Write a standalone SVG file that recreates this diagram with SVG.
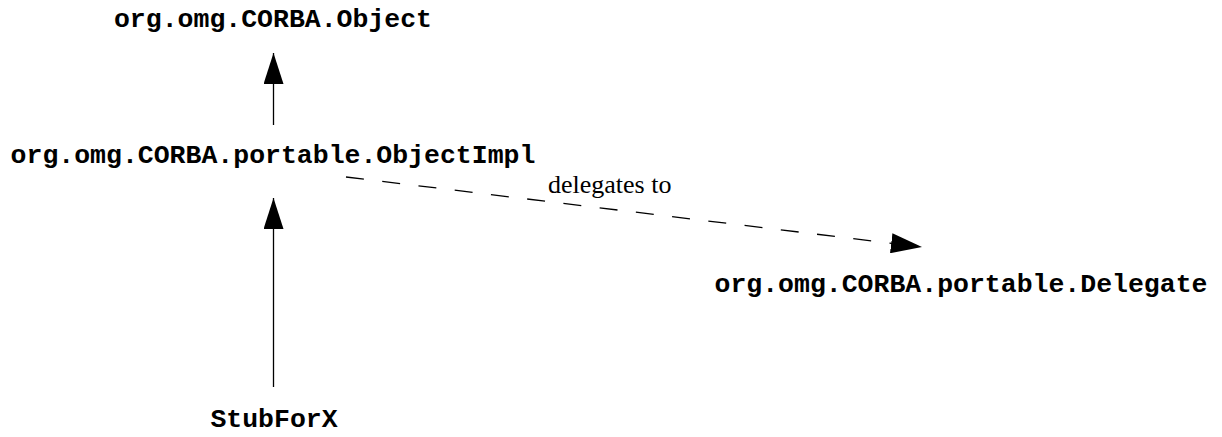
<svg xmlns="http://www.w3.org/2000/svg" width="1222" height="437" viewBox="0 0 1222 437">
  <style>
    .cls { font-family: "Liberation Mono", "Courier New", monospace; font-weight: bold; font-size: 26.5px; fill: #000; text-anchor: middle; }
    .lbl { font-family: "Liberation Serif", "Times New Roman", serif; font-size: 26px; fill: #000; }
    .edge { stroke: #000; stroke-width: 1.3; fill: none; }
    .dash { stroke-dasharray: 18 18.5; }
  </style>
  <defs>
    <marker id="head" viewBox="0 0 31 20" refX="31" refY="10" markerWidth="31" markerHeight="20" markerUnits="userSpaceOnUse" orient="auto">
      <path d="M0,0 L31,10 L0,20 z" fill="#000" stroke="none"/>
    </marker>
  </defs>
  <rect width="1222" height="437" fill="#fff"/>
  <g id="connectors">
    <line class="edge" x1="273.5" y1="125" x2="273.5" y2="53" marker-end="url(#head)"/>
    <line class="edge" x1="273.5" y1="387" x2="273.5" y2="198" marker-end="url(#head)"/>
    <line class="edge dash" x1="346" y1="177" x2="922" y2="247" marker-end="url(#head)"/>
    <text class="lbl" x="548" y="193">delegates to</text>
  </g>
  <g id="node-object">
    <text class="cls" x="273" y="27">org.omg.CORBA.Object</text>
  </g>
  <g id="node-objectimpl">
    <text class="cls" x="273" y="163">org.omg.CORBA.portable.ObjectImpl</text>
  </g>
  <g id="node-delegate">
    <text class="cls" x="961" y="292">org.omg.CORBA.portable.Delegate</text>
  </g>
  <g id="node-stub">
    <text class="cls" x="274" y="427">StubForX</text>
  </g>
</svg>
